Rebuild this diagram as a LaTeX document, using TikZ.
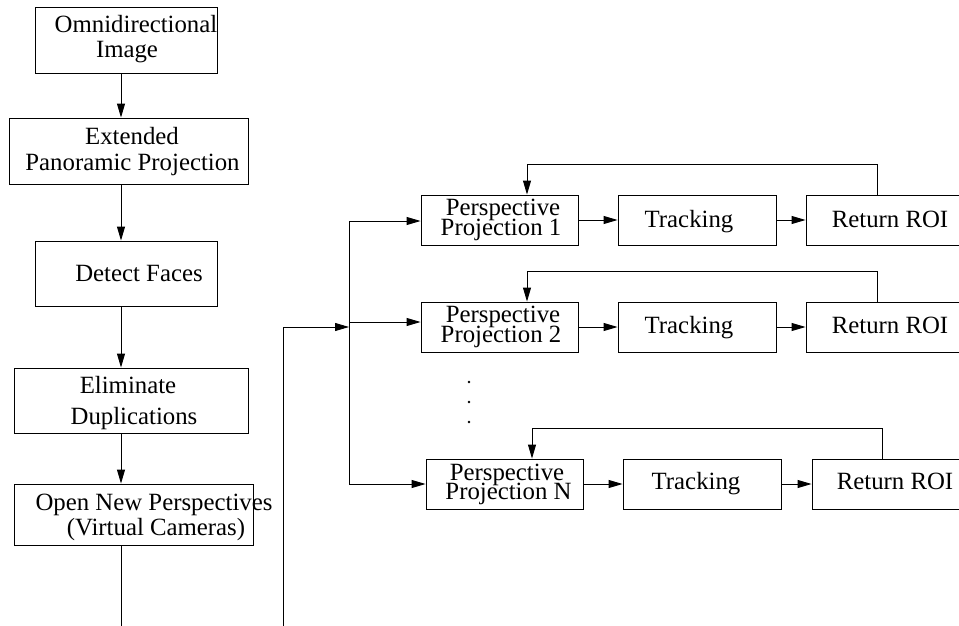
\documentclass[tikz,border=0pt]{standalone}
\usepackage{fontspec}
\setmainfont{Liberation Serif}
\usetikzlibrary{arrows.meta}
\begin{document}
\begin{tikzpicture}[x=1pt,y=-1pt,
  box/.style={draw, line width=0.9pt, inner sep=0pt},
  bx/.style 2 args={box, minimum width=#1pt, minimum height=#2pt},
  txt/.style={inner sep=0pt, anchor=base, font=\fontsize{24.8}{26}\selectfont},
  conn/.style={line width=0.9pt},
  arr/.style={conn, -{Triangle[length=14pt,width=8pt]}},
  dotn/.style={circle, fill, inner sep=0pt, minimum size=2.8pt}]
\useasboundingbox (0,0) rectangle (959,626);
\clip (0,0) rectangle (959,626);
% left column boxes
\node[bx={182}{66}] (b1) at (126,40) {};
\node[bx={239}{66}] (b2) at (128.5,151) {};
\node[bx={182}{65}] (b3) at (126,273.5) {};
\node[bx={234}{65}] (b4) at (131,400.5) {};
\node[bx={239}{61}] (b5) at (133.5,514.5) {};
% left column texts
\node[txt] (t1a) at (136,33) {Omnidirectional};
\node[txt] (t1b) at (127,58) {Image};
\node[txt] (t2a) at (132,144) {Extended};
\node[txt] (t2b) at (132.5,170) {Panoramic Projection};
\node[txt] (t3a) at (139,281) {Detect Faces};
\node[txt] (t4a) at (128,393) {Eliminate};
\node[txt] (t4b) at (134,424) {Duplications};
\node[txt] (t5a) at (154,510) {Open New Perspectives};
\node[txt] (t5b) at (156,535) {(Virtual Cameras)};
% right rows
\node[bx={157}{50}] (P1) at (499.5,220) {};
\node[bx={158}{50}] (T1) at (697,220) {};
\node[bx={168}{50}] (R1) at (890,220) {};
\node[bx={157}{50}] (P2) at (499.5,327) {};
\node[bx={158}{50}] (T2) at (697,327) {};
\node[bx={168}{50}] (R2) at (890,327) {};
\node[bx={157}{50}] (PN) at (504.5,484) {};
\node[bx={158}{50}] (TN) at (702,484) {};
\node[bx={168}{50}] (RN) at (896,484) {};
\node[txt] (p1a) at (503,215) {Perspective};
\node[txt] (p1b) at (501,235) {Projection 1};
\node[txt] (p2a) at (503,322) {Perspective};
\node[txt] (p2b) at (501,342) {Projection 2};
\node[txt] (pNa) at (507,480) {Perspective};
\node[txt] (pNb) at (508.5,499) {Projection N};
\node[txt] (k1) at (689,227) {Tracking};
\node[txt] (k2) at (689,333) {Tracking};
\node[txt] (kN) at (696,489) {Tracking};
\node[txt] (r1) at (890,227) {Return ROI};
\node[txt] (r2) at (890,333) {Return ROI};
\node[txt] (rN) at (895,489) {Return ROI};
% dots
\node[dotn] (d1) at (469,382) {};
\node[dotn] (d2) at (469,402) {};
\node[dotn] (d3) at (469,422) {};
% left column connectors
\coordinate (colx) at (121,0);
\draw[arr] (b1.south -| colx) -- (b2.north -| colx);
\draw[arr] (b2.south -| colx) -- (b3.north -| colx);
\draw[arr] (b3.south -| colx) -- (b4.north -| colx);
\draw[arr] (b4.south -| colx) -- (b5.north -| colx);
\coordinate (endA) at (121,626);
\draw[conn] (b5.south -| colx) -- (endA);
% second column feed
\coordinate (endB) at (283,626);
\coordinate (feedIn) at (283,327);
\coordinate (junc) at (349,327);
\draw[arr] (endB) -- (feedIn) -- (junc);
\coordinate (bt) at (349,221);
\coordinate (bm) at (349,322);
\coordinate (bb) at (349,484);
\draw[conn] (bt) -- (bb);
\draw[arr] (bt) -- (P1.west |- bt);
\draw[arr] (bm) -- (P2.west |- bm);
\draw[arr] (bb) -- (PN.west);
% row arrows
\draw[arr] (P1) -- (T1);
\draw[arr] (T1) -- (R1);
\draw[arr] (P2) -- (T2);
\draw[arr] (T2) -- (R2);
\draw[arr] (PN) -- (TN);
\draw[arr] (TN) -- (RN);
% feedback loops
\coordinate (f1a) at (877,164);
\coordinate (f1b) at (527,164);
\draw[arr] (R1.north -| f1a) -- (f1a) -- (f1b) -- (P1.north -| f1b);
\coordinate (f2a) at (877,271);
\coordinate (f2b) at (527,271);
\draw[arr] (R2.north -| f2a) -- (f2a) -- (f2b) -- (P2.north -| f2b);
\coordinate (fNa) at (882,428);
\coordinate (fNb) at (532,428);
\draw[arr] (RN.north -| fNa) -- (fNa) -- (fNb) -- (PN.north -| fNb);
\end{tikzpicture}
\end{document}
